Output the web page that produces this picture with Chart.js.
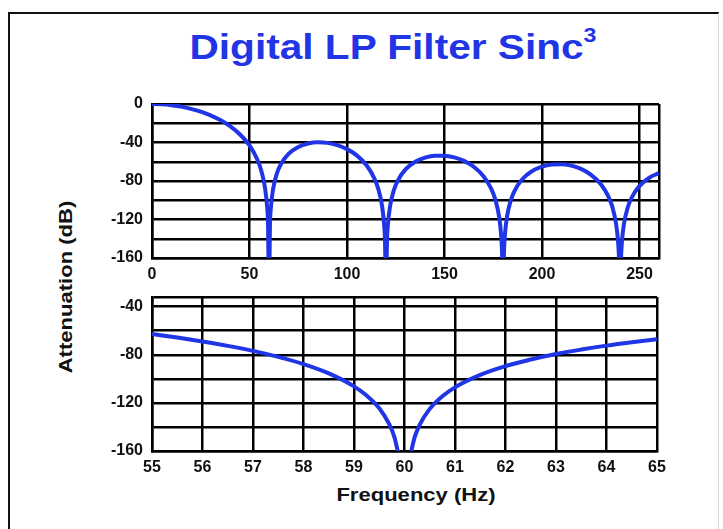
<!DOCTYPE html>
<html>
<head>
<meta charset="utf-8">
<script src="https://cdn.jsdelivr.net/npm/chart.js@4.4.1/dist/chart.umd.min.js"></script>
<style>
  html, body { margin: 0; padding: 0; background: #fff; }
  body { width: 723px; height: 529px; position: relative; overflow: hidden; font-family: "Liberation Sans", Arial, sans-serif; }
  .frame { position: absolute; left: 8px; top: 12px; width: 708px; height: 530px;
           border-left: 2px solid #111; border-top: 2px solid #111; border-right: 1px solid #d8d8d8; }
  .title { position: absolute; left: 393px; top: 29px; font-size: 35px; line-height: 35px; font-weight: bold;
           color: #1f35e6; white-space: nowrap; transform: translateX(-50%) scaleX(1.16); }
  .title sup { font-size: 20px; position: relative; top: -4px; vertical-align: top; line-height: 20px; }
  .ytitle { position: absolute; left: 66px; top: 287px; font-size: 19px; font-weight: bold; color: #111; white-space: nowrap;
            transform: translate(-50%, -50%) rotate(-90deg) scaleX(1.16); }
  .xtitle { position: absolute; left: 416px; top: 495px; font-size: 19px; font-weight: bold; color: #111; white-space: nowrap;
            transform: translate(-50%, -50%) scaleX(1.16); }
  canvas { position: absolute; }
  #topChart { left: 100px; top: 94px; }
  #zoomChart { left: 100px; top: 287px; }
</style>
</head>
<body>
<div class="frame"></div>
<div class="title">Digital LP Filter Sinc<sup>3</sup></div>
<div class="ytitle">Attenuation (dB)</div>
<div class="xtitle">Frequency (Hz)</div>
<canvas id="topChart" width="570" height="188"></canvas>
<canvas id="zoomChart" width="570" height="188"></canvas>

<script>
// upper panel: 0 - 260 Hz (-200 = notch, below the axis)
const topFreq = [0, 5, 10, 15, 20, 25, 30, 35, 40, 45, 50, 54, 56, 58, 59, 59.5, 60, 60.5, 61, 62, 64, 66, 70, 75, 80, 85, 90, 95, 100, 105, 110, 114, 116, 118, 119, 119.5, 120, 120.5, 121, 122, 124, 126, 130, 135, 140, 145, 150, 155, 160, 165, 170, 174, 176, 178, 179, 179.5, 180, 180.5, 181, 182, 184, 186, 190, 195, 200, 205, 210, 215, 220, 225, 230, 234, 236, 238, 239, 239.5, 240, 240.5, 241, 242, 244, 246, 250, 255, 260];
const topAtt = [0, -0.3, -1.2, -2.7, -5.0, -7.9, -11.8, -16.7, -23.0, -31.4, -43.1, -57.7, -69.0, -87.8, -106.3, -124.5, -200, -125.0, -107.1, -89.5, -72.4, -62.9, -51.9, -44.7, -41.1, -39.8, -40.4, -42.7, -46.9, -53.4, -63.7, -77.2, -87.9, -106.3, -124.5, -142.7, -200, -142.9, -125.0, -107.2, -89.7, -79.8, -68.0, -60.0, -55.7, -53.7, -53.7, -55.5, -59.1, -65.2, -75.0, -88.2, -98.8, -117.0, -135.2, -153.3, -200, -153.5, -135.5, -117.6, -100.0, -89.9, -77.9, -69.6, -65.0, -62.8, -62.5, -64.0, -67.4, -73.3, -82.9, -95.9, -106.4, -124.6, -142.7, -160.8, -200, -160.9, -142.9, -125.0, -107.3, -97.2, -85.1, -76.6, -71.8];

// lower panel: zoom around the 60 Hz notch
const zoomFreq = [55, 55.5, 56, 56.5, 57, 57.5, 58, 58.5, 59, 59.25, 59.5, 59.7, 59.8, 59.9, 60, 60.1, 60.2, 60.3, 60.5, 60.75, 61, 61.5, 62, 62.5, 63, 63.5, 64, 64.5, 65];
const zoomAtt = [-62.8, -65.7, -69.0, -72.6, -76.8, -81.8, -87.8, -95.5, -106.3, -113.9, -124.5, -137.9, -148.5, -166.6, null, -166.7, -148.7, -138.2, -125.0, -114.5, -107.1, -96.8, -89.5, -84.0, -79.4, -75.7, -72.4, -69.6, -67.1];

// grid lines and labelled ticks
const topFreqGrid = [0, 50, 100, 150, 200, 250, 260];
const topFreqLabels = [0, 50, 100, 150, 200, 250];
const topAttGrid = [0, -20, -40, -60, -80, -100, -120, -140, -160];
const topAttLabels = [0, -40, -80, -120, -160];
const zoomFreqGrid = [55, 56, 57, 58, 59, 60, 61, 62, 63, 64, 65];
const zoomAttGrid = [-32, -40, -60, -80, -100, -120, -140, -160];
const zoomAttLabels = [-40, -80, -120, -160];

const blue = '#1f35e6';
const tickFont = { family: '"Liberation Sans", Arial, sans-serif', size: 16, weight: 'bold', lineHeight: 1 };

function toPoints(xs, ys) {
    return xs.map((x, i) => ({ x: x, y: ys[i] }));
}

// keep the plot area where the layout padding puts it (no extra room for edge labels)
function noEdgePadding(s) {
    s.paddingTop = 0;
    s.paddingBottom = 0;
    s.paddingLeft = 0;
    s.paddingRight = 0;
}

function makePanel(id, xs, ys, xRange, yRange, xGrid, xLabels, yGrid, yLabels, padRight) {
    const ctx = document.getElementById(id).getContext('2d');
    return new Chart(ctx, {
        type: 'line',
        data: {
            datasets: [{
                data: toPoints(xs, ys),
                borderColor: blue,
                borderWidth: 4,
                pointRadius: 0,
                fill: false,
                cubicInterpolationMode: 'monotone',
                spanGaps: false
            }]
        },
        options: {
            responsive: false,
            animation: false,
            events: [],
            layout: { padding: { top: 10, right: padRight, left: 0, bottom: 0 } },
            plugins: { legend: { display: false }, tooltip: { enabled: false } },
            scales: {
                x: {
                    type: 'linear',
                    min: xRange[0],
                    max: xRange[1],
                    afterBuildTicks: s => { s.ticks = xGrid.map(v => ({ value: v })); },
                    afterFit: s => { s.height = 24; noEdgePadding(s); },
                    grid: { color: '#000', lineWidth: 2.5, drawTicks: false },
                    border: { color: '#000', width: 2.5 },
                    ticks: {
                        color: '#111',
                        font: tickFont,
                        padding: 9,
                        maxRotation: 0,
                        autoSkip: false,
                        callback: v => xLabels.includes(v) ? String(v) : ''
                    }
                },
                y: {
                    min: yRange[0],
                    max: yRange[1],
                    afterBuildTicks: s => { s.ticks = yGrid.map(v => ({ value: v })); },
                    afterFit: s => { s.width = 52; noEdgePadding(s); },
                    grid: { color: '#000', lineWidth: 2.5, drawTicks: false },
                    border: { color: '#000', width: 2.5 },
                    ticks: {
                        color: '#111',
                        font: tickFont,
                        padding: 9,
                        autoSkip: false,
                        callback: v => yLabels.includes(v) ? String(v) : ''
                    }
                }
            }
        }
    });
}

makePanel('topChart', topFreq, topAtt, [0, 260], [-160, 0], topFreqGrid, topFreqLabels, topAttGrid, topAttLabels, 11);
makePanel('zoomChart', zoomFreq, zoomAtt, [55, 65], [-160, -32], zoomFreqGrid, zoomFreqGrid, zoomAttGrid, zoomAttLabels, 13);
</script>
</body>
</html>
